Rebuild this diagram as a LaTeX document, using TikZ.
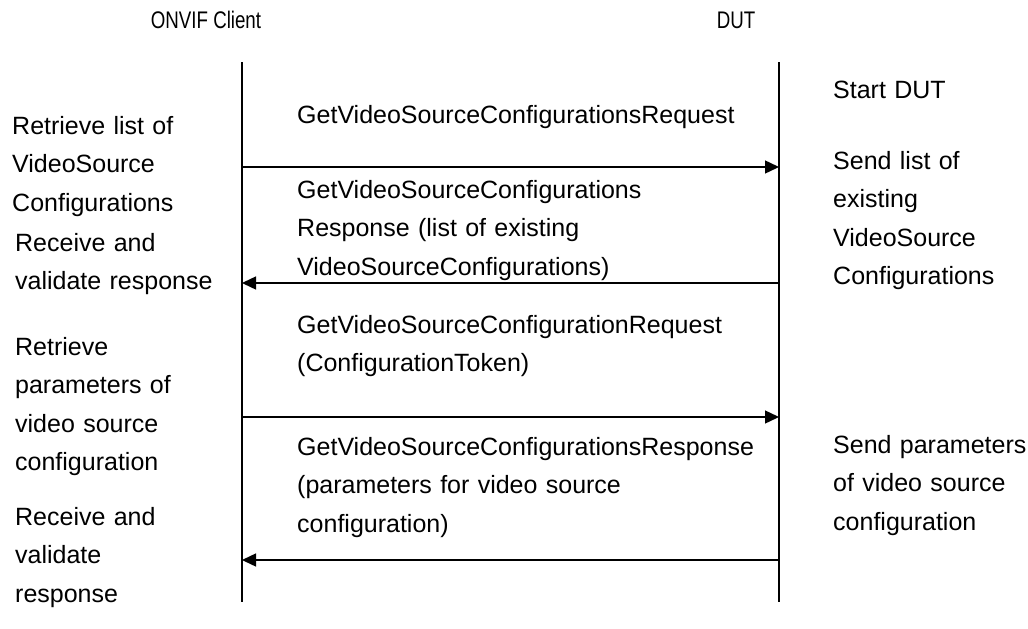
\documentclass[tikz,border=0pt]{standalone}
\usepackage{fontspec}
\setmainfont{Liberation Sans}
\usetikzlibrary{arrows.meta}
\begin{document}
\begin{tikzpicture}[x=1pt,y=-1pt,
  txt/.style={anchor=base west, inner sep=0pt, align=left,
    font=\fontsize{25}{38.5}\selectfont},
  hdr/.style={anchor=base, inner sep=0pt, font=\fontsize{24}{28}\selectfont},
  life/.style={line width=1.5pt},
  msg/.style={line width=1.4pt, -{Triangle[length=14pt,width=13pt]}}]
\useasboundingbox[fill=white] (0,0) rectangle (1028,629);

% headers
\node[hdr] (hc) at (206,28) {\scalebox{0.78}[1]{ONVIF Client}};
\node[hdr] (hd) at (736,28) {\scalebox{0.78}[1]{DUT}};

% lifelines
\coordinate (ct) at (242,62);
\coordinate (cb) at (242,602);
\coordinate (dt) at (779,62);
\coordinate (db) at (779,602);
\draw[life] (ct) -- (cb);
\draw[life] (dt) -- (db);

% message anchor points
\coordinate (m1s) at (242,167);
\coordinate (m1e) at (779,167);
\coordinate (m2s) at (779,283);
\coordinate (m2e) at (242,283);
\coordinate (m3s) at (242,417);
\coordinate (m3e) at (779,417);
\coordinate (m4s) at (779,560);
\coordinate (m4e) at (242,560);
\draw[msg] (m1s) -- (m1e);
\draw[msg] (m2s) -- (m2e);
\draw[msg] (m3s) -- (m3e);
\draw[msg] (m4s) -- (m4e);

% left column
\node[txt, text width=228pt] (l1) at (12,134) {Retrieve list of\\VideoSource\\Configurations};
\node[txt, text width=226pt] (l2) at (15,251) {Receive and\\validate response};
\node[txt, text width=226pt] (l3) at (15,355) {Retrieve\\parameters of\\video source\\configuration};
\node[txt, text width=226pt] (l4) at (15,525) {Receive and\\validate\\response};

% middle column
\node[txt, text width=478pt] (t1) at (297,123) {GetVideoSourceConfigurationsRequest};
\node[txt, text width=478pt] (t2) at (297,198) {GetVideoSourceConfigurations\\Response (list of existing\\VideoSourceConfigurations)};
\node[txt, text width=478pt] (t3) at (297,333) {GetVideoSourceConfigurationRequest\\(ConfigurationToken)};
\node[txt, text width=478pt] (t4) at (297,455) {GetVideoSourceConfigurationsResponse\\(parameters for video source\\configuration)};

% right column
\node[txt, text width=195pt] (r1) at (833,98) {Start DUT};
\node[txt, text width=195pt] (r2) at (833,169) {Send list of\\existing\\VideoSource\\Configurations};
\node[txt, text width=195pt] (r3) at (833,453) {Send parameters\\of video source\\configuration};
\end{tikzpicture}
\end{document}
